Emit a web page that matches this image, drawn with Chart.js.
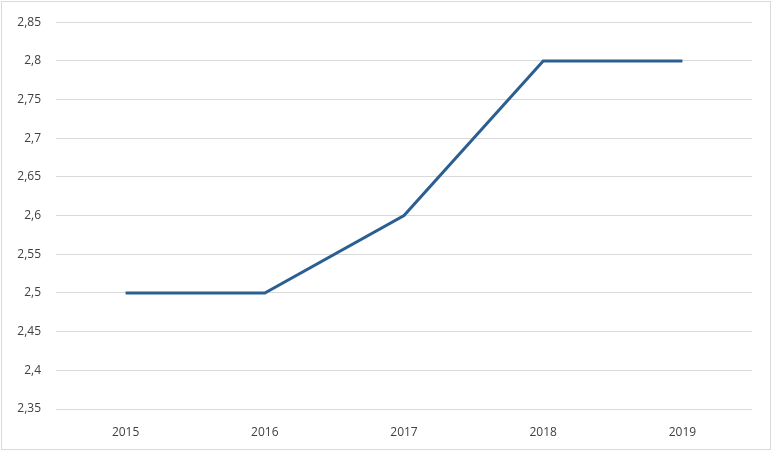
<!DOCTYPE html>
<html>
<head>
<meta charset="utf-8">
<script src="https://cdn.jsdelivr.net/npm/chart.js@4/dist/chart.umd.min.js"></script>
<style>
  html, body { margin: 0; padding: 0; background: #ffffff; }
  #wrap { width: 772px; height: 451px; }
</style>
</head>
<body>
<div id="wrap"><canvas id="lineChart"></canvas></div>
<script>
// ================= DATA =================

const years = ["2015", "2016", "2017", "2018", "2019"];

const values = [2.5, 2.5, 2.6, 2.8, 2.8];

const yTicks = [2.35, 2.4, 2.45, 2.5, 2.55, 2.6, 2.65, 2.7, 2.75, 2.8, 2.85];


// ================= FRAME PLUGIN =================

// Thin grey frame around the whole picture
const frame = {
    id: "frame",
    beforeDraw(chart) {
        const { ctx, width, height } = chart;
        ctx.save();
        ctx.fillStyle = "#ffffff";
        ctx.fillRect(0, 0, width, height);
        ctx.strokeStyle = "#d9d9d9";
        ctx.lineWidth = 1;
        ctx.strokeRect(1.5, 1.5, width - 3, height - 3);
        ctx.restore();
    }
};


// ================= LINE CHART =================

new Chart(
    document.getElementById("lineChart"),
    {
        type: "line",

        data: {
            labels: years,
            datasets: [
                {
                    data: values,
                    borderColor: "#2b5f91",
                    borderWidth: 3,
                    pointRadius: 0,
                    tension: 0,
                    fill: false
                }
            ]
        },

        options: {
            responsive: true,
            maintainAspectRatio: false,
            animation: false,
            layout: {
                padding: { top: 20, right: 20, bottom: 0, left: 0 }
            },
            plugins: {
                legend: { display: false },
                tooltip: { enabled: false }
            },
            scales: {
                x: {
                    offset: true,
                    grid: { display: false, drawTicks: false },
                    border: { display: false },
                    ticks: {
                        padding: 16,
                        color: "#404040",
                        font: { family: "'Open Sans', sans-serif", size: 12 }
                    },
                    afterFit(scale) { scale.height = 42; }
                },
                y: {
                    min: 2.35,
                    max: 2.85,
                    afterBuildTicks(scale) {
                        scale.ticks = yTicks.map(v => ({ value: v }));
                    },
                    grid: {
                        color: "#d9d9d9",
                        lineWidth: 1,
                        drawTicks: false
                    },
                    border: { display: false },
                    ticks: {
                        padding: 15,
                        color: "#404040",
                        font: { family: "'Open Sans', sans-serif", size: 12 },
                        callback: v => String(Math.round(v * 100) / 100).replace(".", ",")
                    },
                    afterFit(scale) { scale.width = 56; }
                }
            }
        },

        plugins: [frame]
    }
);
</script>
</body>
</html>
